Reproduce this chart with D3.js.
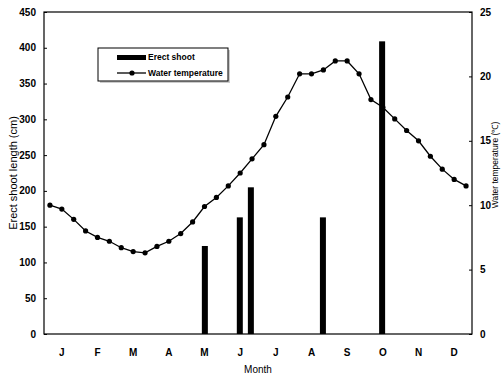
<!DOCTYPE html>
<html>
<head>
<meta charset="utf-8">
<style>
body { margin: 0; background: #fff; }
svg text { font-family: "Liberation Sans", Arial, sans-serif; fill: #000; }
</style>
</head>
<body>
<script src="https://d3js.org/d3.v7.min.js"></script>
<script>
// month labels
var months = ["J","F","M","A","M","J","J","A","S","O","N","D"];

// erect shoot length (cm), position in months from 1 Jan
var shootPos = [4.51, 5.49, 5.80, 7.82, 9.48];
var shootLen = [123, 163, 205, 163, 409];

// water temperature, three readings a month
var tempVals = [10.0, 9.7, 8.9, 8.0, 7.5, 7.2, 6.7, 6.4, 6.3,
                6.8, 7.2, 7.8, 8.7, 9.9, 10.6, 11.5, 12.5, 13.6,
                14.7, 16.9, 18.4, 20.2, 20.2, 20.5, 21.2, 21.2, 20.2,
                18.2, 17.6, 16.7, 15.8, 15.0, 13.8, 12.8, 12.0, 11.5];

var leftTicks = [0,50,100,150,200,250,300,350,400,450];
var rightTicks = [0,5,10,15,20,25];

var width = 501, height = 376;
var m = {left: 44, right: 29, top: 12, bottom: 42};
var pw = width - m.left - m.right, ph = height - m.top - m.bottom;

var svg = d3.select("body").append("svg")
  .attr("width", width).attr("height", height);

var x = d3.scaleLinear().domain([0, 12]).range([m.left, m.left + pw]);
var yL = d3.scaleLinear().domain([0, 450]).range([m.top + ph, m.top]);
var yR = d3.scaleLinear().domain([0, 25]).range([m.top + ph, m.top]);

// frame
svg.append("rect")
  .attr("x", m.left).attr("y", m.top)
  .attr("width", pw).attr("height", ph)
  .attr("fill", "none").attr("stroke", "#000").attr("stroke-width", 1.2);

// left axis
var gl = svg.append("g").attr("transform", "translate(" + m.left + ",0)")
  .call(d3.axisRight(yL).tickValues(leftTicks).tickSize(3).tickFormat(""));
gl.select(".domain").remove();
svg.selectAll(".ltick").data(leftTicks).enter().append("text")
  .attr("x", m.left - 8).attr("y", d => yL(d) + 3.5)
  .attr("text-anchor", "end").attr("font-size", 10).attr("font-weight", "bold")
  .text(d => d);

// right axis
var gr = svg.append("g").attr("transform", "translate(" + (m.left + pw) + ",0)")
  .call(d3.axisLeft(yR).tickValues(rightTicks).tickSize(3).tickFormat(""));
gr.select(".domain").remove();
svg.selectAll(".rtick").data(rightTicks).enter().append("text")
  .attr("x", m.left + pw + 8).attr("y", d => yR(d) + 3.5)
  .attr("text-anchor", "start").attr("font-size", 10).attr("font-weight", "bold")
  .text(d => d);

// month labels
svg.selectAll(".mlab").data(months).enter().append("text")
  .attr("x", (d, i) => x(i + 0.5)).attr("y", m.top + ph + 22)
  .attr("text-anchor", "middle").attr("font-size", 10).attr("font-weight", "bold")
  .text(d => d);

svg.append("text").attr("x", x(6)).attr("y", 373)
  .attr("text-anchor", "middle").attr("font-size", 10).text("Month");

svg.append("text")
  .attr("transform", "translate(17," + (m.top + ph / 2) + ") rotate(-90)")
  .attr("text-anchor", "middle").attr("font-size", 11).text("Erect shoot length (cm)");

svg.append("text")
  .attr("transform", "translate(498," + (m.top + ph / 2 - 8) + ") rotate(-90)")
  .attr("text-anchor", "middle").attr("font-size", 8.5).text("Water temperature (\u2103)");

// bars
svg.selectAll(".bar").data(shootLen).enter().append("rect")
  .attr("x", (d, i) => x(shootPos[i]) - 3)
  .attr("y", d => yL(d))
  .attr("width", 6)
  .attr("height", d => yL(0) - yL(d))
  .attr("fill", "#000");

// temperature line
var line = d3.line().x((d, i) => x((i + 0.5) / 3)).y(d => yR(d));
svg.append("path").datum(tempVals)
  .attr("d", line).attr("fill", "none").attr("stroke", "#000").attr("stroke-width", 1.3);
svg.selectAll(".pt").data(tempVals).enter().append("circle")
  .attr("cx", (d, i) => x((i + 0.5) / 3)).attr("cy", d => yR(d))
  .attr("r", 2.6).attr("fill", "#000");

// legend
var lg = svg.append("g");
lg.append("rect").attr("x", 100).attr("y", 50).attr("width", 130).attr("height", 33)
  .attr("fill", "#ccc");
lg.append("rect").attr("x", 98).attr("y", 48).attr("width", 130).attr("height", 33)
  .attr("fill", "#fff").attr("stroke", "#000").attr("stroke-width", 1);
lg.append("rect").attr("x", 117).attr("y", 55).attr("width", 29).attr("height", 5).attr("fill", "#000");
lg.append("text").attr("x", 148).attr("y", 60).attr("font-size", 8.5).attr("font-weight", "bold").text("Erect shoot");
lg.append("line").attr("x1", 117).attr("x2", 146).attr("y1", 73).attr("y2", 73)
  .attr("stroke", "#000").attr("stroke-width", 1.3);
lg.append("circle").attr("cx", 132).attr("cy", 73).attr("r", 2.6).attr("fill", "#000");
lg.append("text").attr("x", 148).attr("y", 76).attr("font-size", 8.5).attr("font-weight", "bold").text("Water temperature");
</script>
</body>
</html>
